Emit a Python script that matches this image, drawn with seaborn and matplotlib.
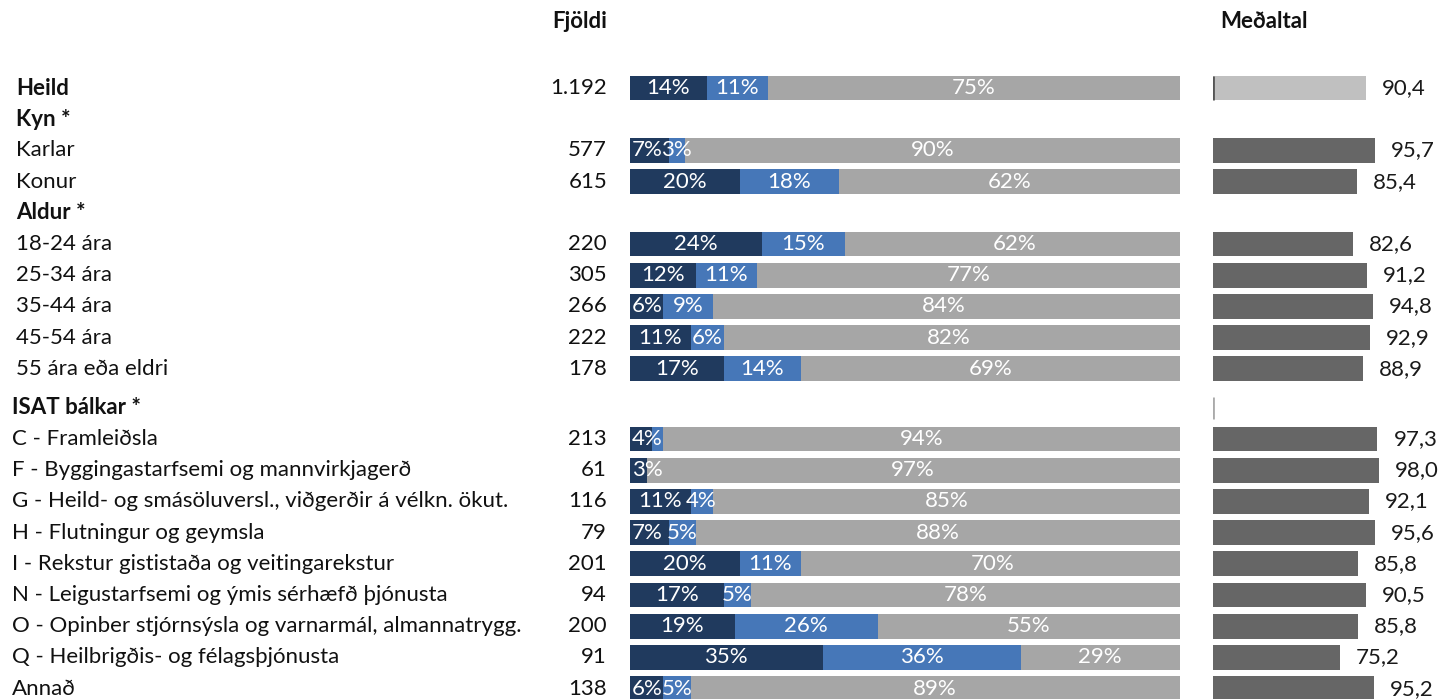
import numpy as np
import pandas as pd
import matplotlib
matplotlib.use("Agg")
import matplotlib.pyplot as plt
import matplotlib.transforms as mtransforms
import seaborn as sns

# Row labels (headers have no data)
row_labels = ["Heild", "Kyn *", "Karlar", "Konur", "Aldur *",
              "18-24 ára", "25-34 ára", "35-44 ára", "45-54 ára", "55 ára eða eldri",
              "ISAT bálkar *",
              "C - Framleiðsla",
              "F - Byggingastarfsemi og mannvirkjagerð",
              "G - Heild- og smásöluversl., viðgerðir á vélkn. ökut.",
              "H - Flutningur og geymsla",
              "I - Rekstur gististaða og veitingarekstur",
              "N - Leigustarfsemi og ýmis sérhæfð þjónusta",
              "O - Opinber stjórnsýsla og varnarmál, almannatrygg.",
              "Q - Heilbrigðis- og félagsþjónusta",
              "Annað"]
header_rows = ["Heild", "Kyn *", "Aldur *", "ISAT bálkar *"]

# data rows only
data_rows = ["Heild", "Karlar", "Konur", "18-24 ára", "25-34 ára", "35-44 ára",
             "45-54 ára", "55 ára eða eldri", "C - Framleiðsla",
             "F - Byggingastarfsemi og mannvirkjagerð",
             "G - Heild- og smásöluversl., viðgerðir á vélkn. ökut.",
             "H - Flutningur og geymsla",
             "I - Rekstur gististaða og veitingarekstur",
             "N - Leigustarfsemi og ýmis sérhæfð þjónusta",
             "O - Opinber stjórnsýsla og varnarmál, almannatrygg.",
             "Q - Heilbrigðis- og félagsþjónusta", "Annað"]
fjoldi = ["1.192", "577", "615", "220", "305", "266", "222", "178",
          "213", "61", "116", "79", "201", "94", "200", "91", "138"]
dark = [14, 7, 20, 24, 12, 6, 11, 17, 4, 3, 11, 7, 20, 17, 19, 35, 6]
blue = [11, 3, 18, 15, 11, 9, 6, 14, 2, 0, 4, 5, 11, 5, 26, 36, 5]
gray = [75, 90, 62, 62, 77, 84, 82, 69, 94, 97, 85, 88, 70, 78, 55, 29, 89]
medaltal = [90.4, 95.7, 85.4, 82.6, 91.2, 94.8, 92.9, 88.9,
            97.3, 98.0, 92.1, 95.6, 85.8, 90.5, 85.8, 75.2, 95.2]

C_DARK = "#203a5e"
C_BLUE = "#4677b8"
C_GRAY = "#a6a6a6"
C_MEAN = "#666666"
C_MEAN_TOTAL = "#c0c0c0"

# vertical layout: one slot per row, extra gap before the ISAT block
isat_start = row_labels.index("ISAT bálkar *")
ypos = {lab: i + (0.25 if i >= isat_start else 0) for i, lab in enumerate(row_labels)}

df = pd.DataFrame({"row": data_rows, "dark": dark, "blue": blue, "gray": gray,
                   "mean": medaltal, "n": fjoldi})
df["y"] = df["row"].map(ypos)
df["cum_blue"] = df["dark"] + df["blue"]
df["full"] = 100
df["grp"] = np.where(df["row"] == "Heild", "total", "sub")

W, H = 1442, 699
fig = plt.figure(figsize=(W / 100, H / 100), dpi=100)
plt.rcParams["font.family"] = ["Lato", "DejaVu Sans"]

pitch = 31.2
y_top = -88 / pitch
y_bot = (H - 88) / pitch

ax = fig.add_axes([630 / W, 0, 550 / W, 1])
ax2 = fig.add_axes([1213 / W, 0, 169 / W, 1])

# stacked bars drawn as cumulative layers
sns.barplot(data=df, x="full", y="y", orient="y", native_scale=True,
            color=C_GRAY, saturation=1, width=0.8, errorbar=None, ax=ax)
sns.barplot(data=df, x="cum_blue", y="y", orient="y", native_scale=True,
            color=C_BLUE, saturation=1, width=0.8, errorbar=None, ax=ax)
sns.barplot(data=df, x="dark", y="y", orient="y", native_scale=True,
            color=C_DARK, saturation=1, width=0.8, errorbar=None, ax=ax)

sns.barplot(data=df, x="mean", y="y", orient="y", native_scale=True, hue="grp",
            palette={"total": C_MEAN_TOTAL, "sub": C_MEAN}, dodge=False,
            legend=False, saturation=1, width=0.8, errorbar=None, ax=ax2)

for a in (ax, ax2):
    a.set_xlim(0, 100)
    a.set_ylim(y_bot, y_top)
    a.axis("off")

# little axis marks in the mean column
ax2.vlines(0, ypos["Heild"] - 0.4, ypos["Heild"] + 0.4, color="#555555", lw=2)
ax2.vlines(0, ypos["ISAT bálkar *"] - 0.35, ypos["ISAT bálkar *"] + 0.35,
           color="#aaaaaa", lw=2)

fs = 16
# percentage labels inside segments
for _, r in df.iterrows():
    starts = [0, r["dark"], r["cum_blue"]]
    for k, (s, v) in enumerate(zip(starts, [r["dark"], r["blue"], r["gray"]])):
        if v < 3:
            continue
        if k == 0 and v < 8:
            ax.text(0.4, r["y"], f"{v}%", ha="left", va="center",
                    color="white", fontsize=fs)
        else:
            ax.text(s + v / 2, r["y"], f"{v}%", ha="center", va="center",
                    color="white", fontsize=fs)
    ax2.annotate(f"{r['mean']:.1f}".replace(".", ","), (r["mean"], r["y"]),
                 xytext=(16, 0), textcoords="offset pixels",
                 ha="left", va="center", fontsize=fs, color="#1a1a1a")

# left labels and counts
trans = mtransforms.blended_transform_factory(fig.transFigure, ax.transData)
for lab in row_labels:
    bold = lab in header_rows
    x0 = 12 if ypos[lab] >= ypos["ISAT bálkar *"] else 16
    ax.text(x0 / W, ypos[lab], lab, transform=trans, ha="left", va="center",
            fontsize=fs, fontweight="bold" if bold else "normal", color="#111111")
for _, r in df.iterrows():
    ax.text(607 / W, r["y"], r["n"], transform=trans, ha="right", va="center",
            fontsize=fs, color="#111111")

fig.text(607 / W, 1 - 22 / H, "Fjöldi", ha="right", va="center",
         fontsize=fs, fontweight="bold", color="#111111")
fig.text(1220 / W, 1 - 22 / H, "Meðaltal", ha="left", va="center",
         fontsize=fs, fontweight="bold", color="#111111")

fig.savefig("out.png", dpi=100)
